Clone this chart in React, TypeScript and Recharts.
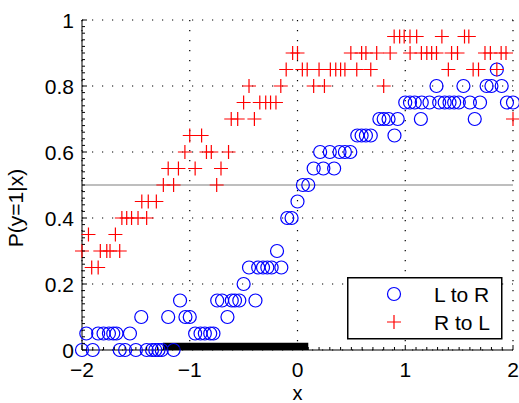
import React from "react";
import {
  ScatterChart, Scatter, XAxis, YAxis, CartesianGrid,
  ReferenceLine, ReferenceArea, Legend,
} from "recharts";

// [x, P(y=1|x)]
const lToR: [number, number][] = [
  [-2.0, 0], [-1.9, 0], [-1.65, 0], [-1.6, 0], [-1.5, 0], [-1.4, 0], [-1.35, 0],
  [-1.32, 0], [-1.29, 0], [-1.26, 0], [-1.15, 0],
  [-1.96, 0.05], [-1.85, 0.05], [-1.8, 0.05], [-1.75, 0.05], [-1.71, 0.05], [-1.68, 0.05],
  [-1.555, 0.05], [-0.95, 0.05], [-0.9, 0.05], [-0.86, 0.05], [-0.81, 0.05], [-0.78, 0.05],
  [-1.45, 0.1], [-1.2, 0.1], [-1.04, 0.1], [-1.0, 0.1], [-0.65, 0.1],
  [-1.09, 0.15], [-0.745, 0.15], [-0.7, 0.15], [-0.61, 0.15], [-0.58, 0.15], [-0.54, 0.15], [-0.39, 0.15],
  [-0.5, 0.2],
  [-0.45, 0.25], [-0.365, 0.25], [-0.32, 0.25], [-0.28, 0.25], [-0.24, 0.25], [-0.15, 0.25],
  [-0.19, 0.3],
  [-0.095, 0.4], [-0.055, 0.4],
  [0.0, 0.45],
  [0.05, 0.5], [0.1, 0.5],
  [0.15, 0.55], [0.24, 0.55], [0.34, 0.55],
  [0.21, 0.6], [0.3, 0.6], [0.39, 0.6], [0.44, 0.6], [0.49, 0.6],
  [0.555, 0.65], [0.595, 0.65], [0.635, 0.65], [0.68, 0.65], [0.9, 0.65],
  [0.76, 0.7], [0.8, 0.7], [0.845, 0.7], [0.93, 0.7], [1.145, 0.7], [1.645, 0.7],
  [1.0, 0.75], [1.044, 0.75], [1.088, 0.75], [1.153, 0.75], [1.225, 0.75], [1.315, 0.75],
  [1.366, 0.75], [1.411, 0.75], [1.454, 0.75], [1.497, 0.75], [1.6, 0.75], [1.694, 0.75],
  [1.944, 0.75], [2.0, 0.75],
  [1.29, 0.8], [1.54, 0.8], [1.755, 0.8], [1.8, 0.8], [1.895, 0.8],
  [1.85, 0.85],
];

const rToL: [number, number][] = [
  [-1.91, 0.25], [-1.85, 0.25],
  [-2.0, 0.3], [-1.83, 0.3], [-1.77, 0.3], [-1.74, 0.3], [-1.65, 0.3],
  [-1.94, 0.35], [-1.69, 0.35],
  [-1.63, 0.4], [-1.585, 0.4], [-1.54, 0.4], [-1.48, 0.4], [-1.4, 0.4],
  [-1.445, 0.45], [-1.385, 0.45], [-1.31, 0.45],
  [-1.245, 0.5], [-1.15, 0.5], [-0.75, 0.5],
  [-1.2, 0.55], [-1.105, 0.55], [-0.95, 0.55], [-0.71, 0.55],
  [-1.045, 0.6], [-0.845, 0.6], [-0.8, 0.6], [-0.64, 0.6],
  [-1.0, 0.65], [-0.89, 0.65],
  [-0.615, 0.7], [-0.555, 0.7], [-0.4, 0.7], [2.0, 0.7],
  [-0.5, 0.75], [-0.35, 0.75], [-0.295, 0.75], [-0.25, 0.75], [-0.2, 0.75],
  [-0.45, 0.8], [-0.155, 0.8], [0.15, 0.8], [0.25, 0.8], [0.8, 0.8],
  [-0.105, 0.85], [0.045, 0.85], [0.09, 0.85], [0.2, 0.85], [0.305, 0.85], [0.355, 0.85],
  [0.4, 0.85], [0.44, 0.85], [0.55, 0.85], [0.68, 0.85], [1.4, 0.85], [1.63, 0.85],
  [1.68, 0.85], [1.85, 0.85],
  [-0.045, 0.9], [0.0, 0.9], [0.495, 0.9], [0.595, 0.9], [0.635, 0.9], [0.735, 0.9],
  [0.86, 0.9], [1.045, 0.9], [1.15, 0.9], [1.2, 0.9], [1.245, 0.9], [1.29, 0.9],
  [1.43, 0.9], [1.485, 0.9], [1.74, 0.9], [1.79, 0.9], [1.89, 0.9], [1.935, 0.9],
  [0.897, 0.95], [0.948, 0.95], [0.99, 0.95], [1.044, 0.95], [1.106, 0.95], [1.34, 0.95],
  [1.55, 0.95], [1.59, 0.95],
];

const seriesNames = ["L to R", "R to L"];
const threshold = 0.5;
const barRange = [-1.25, 0.1];

const xMajor = [-2, -1, 0, 1, 2];
const xTickLabels = ["\u22122", "\u22121", "0", "1", "2"];
const yMajor = [0, 0.2, 0.4, 0.6, 0.8, 1];
const yTickLabels = ["0", "0.2", "0.4", "0.6", "0.8", "1"];
const xTicks = Array.from({ length: 41 }, (_, i) => -2 + i * 0.1);
const yTicks = Array.from({ length: 51 }, (_, i) => i * 0.02);

const FONT = "'Liberation Sans', Arial, Helvetica, sans-serif";

const toPoints = (arr: [number, number][]) => arr.map(([x, y]) => ({ x, y }));

const majorIndex = (v: number, majors: number[]) =>
  majors.findIndex((m) => Math.abs(m - v) < 1e-6);

const XTick = ({ x, y, payload }: any) => {
  const idx = majorIndex(payload.value, xMajor);
  const len = idx >= 0 ? 5 : 3;
  return (
    <g>
      <line x1={x} x2={x} y1={y} y2={y - len} stroke="#000" strokeWidth={1} />
      {idx >= 0 && (
        <text x={x} y={y + 27} textAnchor="middle" fontSize={21} fontFamily={FONT} fill="#000">
          {xTickLabels[idx]}
        </text>
      )}
    </g>
  );
};

const YTick = ({ x, y, payload }: any) => {
  const idx = majorIndex(payload.value, yMajor);
  const len = idx >= 0 ? 5 : 3;
  return (
    <g>
      <line x1={x} x2={x + len} y1={y} y2={y} stroke="#000" strokeWidth={1} />
      {idx >= 0 && (
        <text x={x - 8} y={y + 7.5} textAnchor="end" fontSize={21} fontFamily={FONT} fill="#000">
          {yTickLabels[idx]}
        </text>
      )}
    </g>
  );
};

const YLabel = () => {
  const cy = 208;
  return (
    <text
      x={23}
      y={cy}
      transform={`rotate(-90, 23, ${cy})`}
      textAnchor="middle"
      fontSize={21}
      fontFamily={FONT}
      fill="#000"
    >
      P(y=1|x)
    </text>
  );
};

const XLabel = ({ viewBox }: any) => {
  const cx = viewBox ? viewBox.x + viewBox.width / 2 : 297;
  return (
    <text x={cx} y={399.5} textAnchor="middle" fontSize={20} fontFamily={FONT} fill="#000">
      x
    </text>
  );
};

const CircleMark = (p: any) => (
  <circle cx={p.cx} cy={p.cy} r={6.5} fill="none" stroke="#0000ff" strokeWidth={1.2} />
);

const PlusMark = (p: any) => (
  <path
    d={`M${p.cx - 7},${p.cy}H${p.cx + 7}M${p.cx},${p.cy - 7}V${p.cy + 7}`}
    stroke="#ff0000"
    strokeWidth={1.2}
    fill="none"
  />
);

const LegendBox = () => (
  <svg width={156} height={63} style={{ display: "block" }}>
    <rect x={0.75} y={0.75} width={154} height={61} fill="#fff" stroke="#000" strokeWidth={1.5} />
    <circle cx={47} cy={17} r={6.5} fill="none" stroke="#0000ff" strokeWidth={1.2} />
    <path d="M40,45H54M47,38V52" stroke="#ff0000" strokeWidth={1.2} />
    <text x={87} y={24.5} fontSize={21} fontFamily={FONT} fill="#000">{seriesNames[0]}</text>
    <text x={87} y={52.5} fontSize={21} fontFamily={FONT} fill="#000">{seriesNames[1]}</text>
  </svg>
);

export default function App() {
  return (
    <div>
      <style>{"body{margin:0;background:#fff}"}</style>
      <ScatterChart
        width={519}
        height={403}
        margin={{ top: 20, right: 6, left: 0, bottom: 0 }}
      >
        <CartesianGrid
          horizontalValues={yMajor}
          verticalValues={xMajor}
          stroke="#000"
          strokeWidth={1.2}
          strokeDasharray="1.2 8.8"
        />
        <XAxis
          type="number"
          dataKey="x"
          domain={[-2, 2]}
          ticks={xTicks}
          interval={0}
          tick={<XTick />}
          tickLine={false}
          tickSize={0}
          tickMargin={0}
          axisLine={{ stroke: "#000" }}
          height={53}
          label={<XLabel />}
        />
        <YAxis
          type="number"
          dataKey="y"
          domain={[0, 1]}
          ticks={yTicks}
          interval={0}
          tick={<YTick />}
          tickLine={false}
          tickSize={0}
          tickMargin={0}
          axisLine={{ stroke: "#000" }}
          width={82}
          label={<YLabel />}
        />
        <ReferenceLine y={threshold} stroke="#a8a8a8" strokeWidth={1.3} />
        <ReferenceArea
          x1={barRange[0]}
          x2={barRange[1]}
          y1={0}
          y2={0.022}
          fill="#000"
          fillOpacity={1}
          stroke="none"
        />
        <Scatter
          name={seriesNames[0]}
          data={toPoints(lToR)}
          shape={<CircleMark />}
          isAnimationActive={false}
        />
        <Scatter
          name={seriesNames[1]}
          data={toPoints(rToL)}
          shape={<PlusMark />}
          isAnimationActive={false}
        />
        <Legend
          layout="horizontal"
          verticalAlign="middle"
          align="center"
          content={<LegendBox />}
          wrapperStyle={{ position: "absolute", left: 347, top: 277, width: 156, height: 63 }}
        />
      </ScatterChart>
    </div>
  );
}
